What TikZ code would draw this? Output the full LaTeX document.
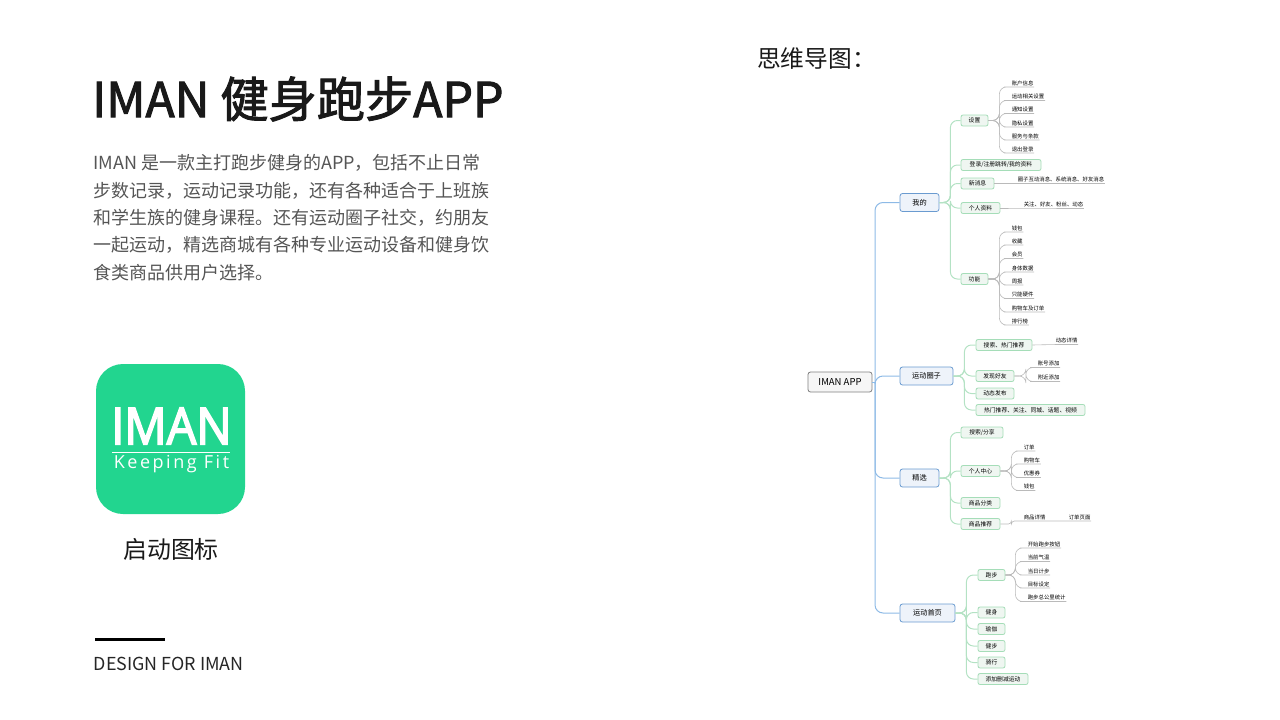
\documentclass[tikz,border=0pt]{standalone}
\usepackage{fontspec}
\setmainfont{Noto Sans CJK SC}
\newfontfamily\titlefont[FakeBold=2]{Noto Sans CJK SC}
\newfontfamily\logofont[FakeBold=3,FakeStretch=0.92]{Open Sans}
\newfontfamily\logosub[LetterSpace=14]{Open Sans}
\newcommand{\fwcomma}{\char"FF0C\relax}
\newcommand{\fwcolon}{\char"FF1A\relax}
\definecolor{rootline}{HTML}{808080}
\definecolor{blueline}{HTML}{8DBAE6}
\definecolor{bluebox}{HTML}{6A9BD0}
\definecolor{bluefill}{HTML}{EEF3FA}
\definecolor{greenline}{HTML}{B4E2C4}
\definecolor{greenbox}{HTML}{A5DDB8}
\definecolor{greenfill}{HTML}{EFF6F1}
\definecolor{grayline}{HTML}{BABABA}
\definecolor{logogreen}{HTML}{22D58F}
\definecolor{parcolor}{HTML}{555555}
\tikzset{
  rootbox/.style={draw=rootline,fill=gray!7,line width=0.8pt,rounded corners=2.5pt,
    minimum width=64pt,minimum height=20pt,inner sep=0pt,font=\fontsize{9.5}{11}\selectfont},
  mainbox/.style={draw=bluebox,fill=bluefill,line width=0.8pt,rounded corners=2.5pt,
    minimum height=18pt,inner sep=0pt,font=\fontsize{7.2}{9}\selectfont},
  subbox/.style={draw=greenbox,fill=greenfill,line width=0.8pt,rounded corners=2pt,
    minimum height=11pt,inner sep=0pt,font=\fontsize{5.8}{7}\selectfont},
  leaf/.style={anchor=south west,inner xsep=0.6pt,inner ysep=0.6pt,text height=5pt,text depth=0.8pt,
    font=\fontsize{5.4}{7}\selectfont},
  elbow/.style={to path={(\tikztostart) -- ++(#1,0) |- (\tikztotarget)}},
  blueconn/.style={draw=blueline,line width=1pt,rounded corners=8pt},
  greenconn/.style={draw=greenline,line width=1pt,rounded corners=7pt},
  grayconn/.style={draw=grayline,line width=0.6pt,rounded corners=7pt},
}
\begin{document}
\begin{tikzpicture}[x=1pt,y=-1pt]
  \useasboundingbox (0,0) rectangle (1280,720);

  % left column
  \node[anchor=west,inner sep=0pt,font=\titlefont\fontsize{48.2}{50}\selectfont,text=black!90] (title) at (92,99) {IMAN 健身跑步APP};
  \node[anchor=north west,inner sep=0pt,align=left,text=parcolor,font=\fontsize{18}{27.3}\selectfont] (intro) at (93,154.5) {IMAN 是一款主打跑步健身的APP\fwcomma 包括不止日常\\步数记录\fwcomma 运动记录功能\fwcomma 还有各种适合于上班族\\和学生族的健身课程。还有运动圈子社交\fwcomma 约朋友\\一起运动\fwcomma 精选商城有各种专业运动设备和健身饮\\食类商品供用户选择。};

  \node[fill=logogreen,rounded corners=27pt,minimum width=149pt,minimum height=150pt,inner sep=0pt] (icon) at (170.5,439) {};
  \node[inner sep=0pt,text=white,font=\logofont\fontsize{51}{51}\selectfont] (logoname) at (171.5,426) {IMAN};
  \coordinate (logol) at (112,452);
  \coordinate (logor) at (230,452);
  \draw[white,line width=1pt] (logol) -- (logor);
  \node[inner sep=0pt,text=white,font=\logosub\fontsize{18}{20}\selectfont] (logosub) at (171.5,464) {Keeping Fit};
  \node[inner sep=0pt,font=\fontsize{23.9}{26}\selectfont,text=black!90] (iconlabel) at (171,549) {启动图标};

  \coordinate (barl) at (95,639);
  \coordinate (barr) at (165,639);
  \draw[black,line width=3pt] (barl) -- (barr);
  \node[anchor=west,inner sep=0pt,font=\fontsize{17.9}{20}\selectfont,text=black!85] (design) at (93.5,664) {DESIGN FOR IMAN};

  \node[anchor=west,inner sep=0pt,font=\fontsize{23.7}{26}\selectfont,text=black!90] (maptitle) at (757,58.5) {思维导图\fwcolon};

  % root and main branches
  \node[rootbox] (root) at (840,382) {IMAN APP};
  \coordinate (hub) at (875,382);
  \node[mainbox,minimum width=39pt] (mine) at (919.5,202.5) {我的};
  \node[mainbox,minimum width=53pt] (circle) at (926.5,376) {运动圈子};
  \node[mainbox,minimum width=39pt] (select) at (919.5,478) {精选};
  \node[mainbox,minimum width=55pt] (home) at (927.5,613) {运动首页};
  \draw[blueconn] (root.east) -- (hub);
  \foreach \t in {mine,circle,select,home}
    \draw[blueconn] (hub) |- (\t.west);

  % mine
  \node[subbox,minimum width=27pt] (settings) at (974.5,120.5) {设置};
  \node[subbox,minimum width=80pt] (login) at (1001,165) {登录/注册跳转/我的资料};
  \node[subbox,minimum width=33pt] (news) at (977.5,183.5) {新消息};
  \node[subbox,minimum width=39pt] (profile) at (980.5,208) {个人资料};
  \node[subbox,minimum width=27pt] (func) at (974.5,279) {功能};
  \foreach \t in {settings,login,news,profile,func}
    \draw[greenconn] (mine.east) to[elbow=11] (\t.west);

  \foreach \y/\t [count=\i] in {87/账户信息,100.5/运动相关设置,113.5/通知设置,127/隐私设置,140/服务与条款,153/退出登录} {
    \node[leaf] (setleaf\i) at (1011,\y) {\t};
    \draw[grayconn] (settings.east) to[elbow=11] (setleaf\i.south west) -- (setleaf\i.south east);
  }
  \node[leaf] (newsleaf) at (1017,183.5) {圈子互动消息、系统消息、好友消息};
  \draw[grayconn] (news.east) -- (newsleaf.south west) -- (newsleaf.south east);
  \node[leaf] (profleaf) at (1023,208) {关注、好友、粉丝、动态};
  \draw[grayconn] (profile.east) -- (profleaf.south west) -- (profleaf.south east);
  \foreach \y/\t [count=\i] in {232/钱包,245/收藏,258.5/会员,272/身体数据,285/周报,298.5/只能硬件,312/购物车及订单,325/排行榜} {
    \node[leaf] (funleaf\i) at (1011,\y) {\t};
    \draw[grayconn] (func.east) to[elbow=11] (funleaf\i.south west) -- (funleaf\i.south east);
  }

  % circle
  \node[subbox,minimum width=56pt] (hot) at (1004,345) {搜索、热门推荐};
  \node[subbox,minimum width=38pt] (friend) at (995,376) {发现好友};
  \node[subbox,minimum width=38pt] (post) at (995,393.5) {动态发布};
  \node[subbox,minimum width=109pt] (topic) at (1030.5,410) {热门推荐、关注、同城、话题、视频};
  \foreach \t in {hot,friend,post,topic}
    \draw[greenconn] (circle.east) to[elbow=11] (\t.west);
  \node[leaf] (hotleaf) at (1055,344.5) {动态详情};
  \draw[grayconn] (hot.east) -- (hotleaf.south west) -- (hotleaf.south east);
  \foreach \y/\t [count=\i] in {367.5/账号添加,381.5/附近添加} {
    \node[leaf] (frleaf\i) at (1037,\y) {\t};
    \draw[grayconn] (friend.east) to[elbow=11.5] (frleaf\i.south west) -- (frleaf\i.south east);
  }

  % select
  \node[subbox,minimum width=42pt] (search) at (982,432.5) {搜索/分享};
  \node[subbox,minimum width=39pt] (center) at (980.5,471) {个人中心};
  \node[subbox,minimum width=39pt] (class) at (980.5,503) {商品分类};
  \node[subbox,minimum width=39pt] (recom) at (980.5,524) {商品推荐};
  \foreach \t in {search,center,class,recom}
    \draw[greenconn] (select.east) to[elbow=11] (\t.west);
  \foreach \y/\t [count=\i] in {451/订单,464/购物车,477.5/优惠券,490.5/钱包} {
    \node[leaf] (cenleaf\i) at (1023,\y) {\t};
    \draw[grayconn] (center.east) to[elbow=11] (cenleaf\i.south west) -- (cenleaf\i.south east);
  }
  \node[leaf] (detail) at (1023,521) {商品详情};
  \node[leaf] (orderpage) at (1068,521) {订单页面};
  \draw[grayconn,rounded corners=3pt] (recom.east) to[elbow=11] (detail.south west) -- (orderpage.south east);

  % home
  \node[subbox,minimum width=27pt] (run) at (991.5,575) {跑步};
  \node[subbox,minimum width=27pt] (fit) at (991.5,612.5) {健身};
  \node[subbox,minimum width=27pt] (yoga) at (991.5,629) {瑜伽};
  \node[subbox,minimum width=27pt] (walk) at (991.5,646) {健步};
  \node[subbox,minimum width=27pt] (ride) at (991.5,662.5) {骑行};
  \node[subbox,minimum width=50pt] (edit) at (1003,679) {添加删减运动};
  \foreach \t in {run,fit,yoga,walk,ride,edit}
    \draw[greenconn] (home.east) to[elbow=11] (\t.west);
  \foreach \y/\t [count=\i] in {548/开始跑步按钮,561.5/当前气温,575/当日计步,588/目标设定,601.5/跑步总公里统计} {
    \node[leaf] (runleaf\i) at (1027,\y) {\t};
    \draw[grayconn] (run.east) to[elbow=10] (runleaf\i.south west) -- (runleaf\i.south east);
  }
\end{tikzpicture}
\end{document}
